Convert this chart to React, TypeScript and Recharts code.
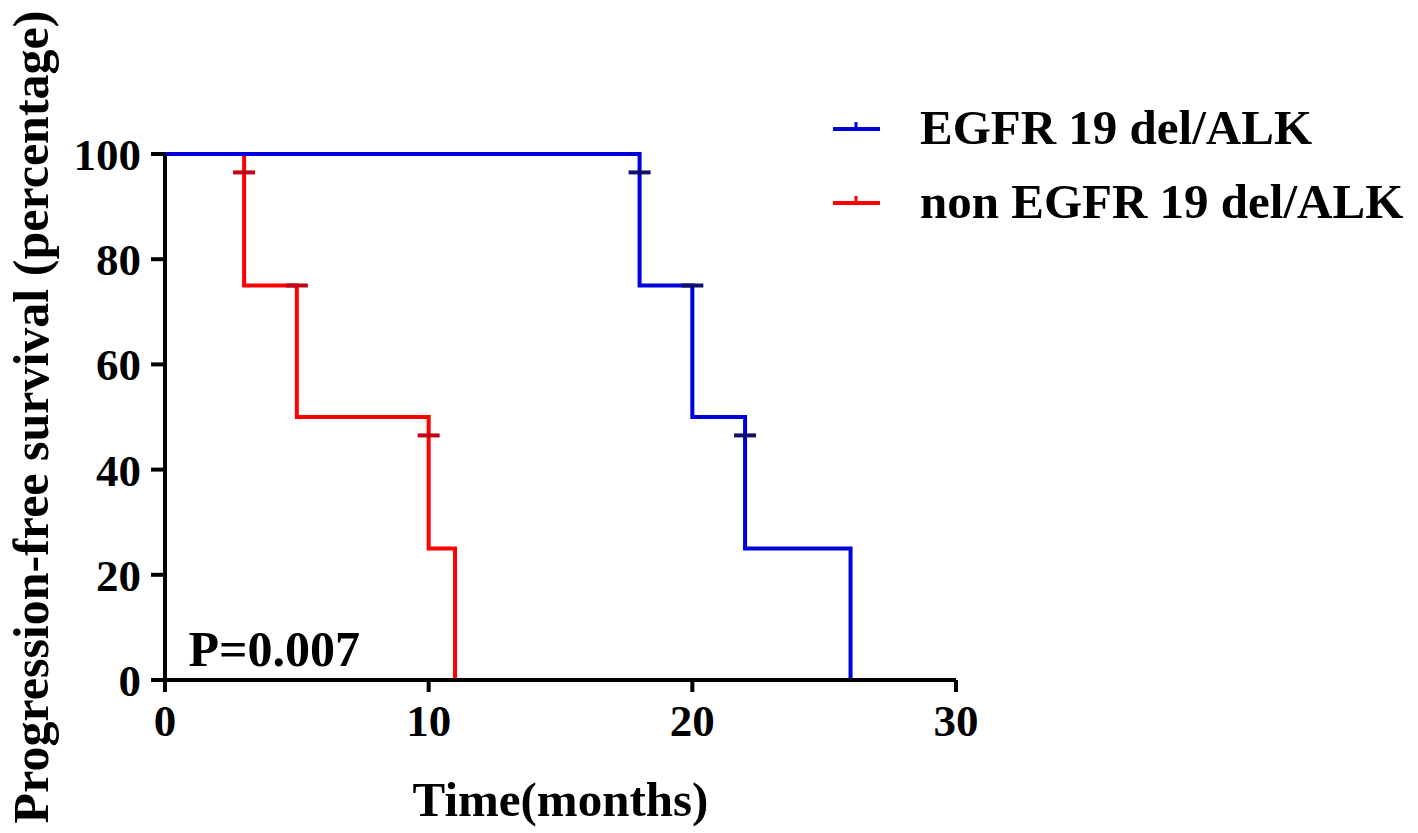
import { ComposedChart, Line, Scatter, XAxis, YAxis, Legend, ReferenceDot } from 'recharts'

const xTicks = [0, 10, 20, 30]
const yTicks = [0, 20, 40, 60, 80, 100]

// survival steps (months, percent)
const redSteps = [
  { t: 0, s: 100 },
  { t: 3, s: 75 },
  { t: 5, s: 50 },
  { t: 10, s: 25 },
  { t: 11, s: 0 },
]
const blueSteps = [
  { t: 0, s: 100 },
  { t: 18, s: 75 },
  { t: 20, s: 50 },
  { t: 22, s: 25 },
  { t: 26, s: 0 },
]

// censor marks
const redCensor = [
  { t: 3, s: 96.5 },
  { t: 5, s: 75 },
  { t: 10, s: 46.5 },
]
const blueCensor = [
  { t: 18, s: 96.5 },
  { t: 20, s: 75 },
  { t: 22, s: 46.5 },
]

const groups = ['EGFR 19 del/ALK', 'non EGFR 19 del/ALK']
const groupColors = ['#0000dd', '#ff0000']

const font = '"Liberation Serif", "Times New Roman", serif'
const tickStyle = { fontSize: 45, fill: '#000', fontWeight: 'bold', fontFamily: font }

const censorShape = (color: string) => (props: any) => {
  const { cx, cy } = props
  return <line x1={cx - 11} x2={cx + 11} y1={cy} y2={cy} stroke={color} strokeWidth={4} />
}

function LegendBox() {
  return (
    <div style={{ fontFamily: font, fontWeight: 'bold', fontSize: 49, color: '#000' }}>
      {groups.map((g, i) => (
        <div key={g} style={{ display: 'flex', alignItems: 'center', height: 74 }}>
          <svg width={90} height={20} style={{ flex: 'none' }}>
            <line x1={3} x2={50} y1={12} y2={12} stroke={groupColors[i]} strokeWidth={4} />
            <line x1={26} x2={26} y1={5} y2={12} stroke={groupColors[i]} strokeWidth={3} />
          </svg>
          <span style={{ whiteSpace: 'nowrap', lineHeight: 1 }}>{g}</span>
        </div>
      ))}
    </div>
  )
}

export default function App() {
  return (
    <div style={{ position: 'absolute', left: 0, top: 0, background: '#fff' }}>
      <ComposedChart width={1418} height={833} margin={{ top: 154, right: 462, bottom: 0, left: 0 }}>
        <XAxis
          type="number"
          dataKey="t"
          domain={[0, 30]}
          ticks={xTicks}
          allowDataOverflow
          tick={tickStyle}
          tickSize={12}
          tickMargin={12}
          height={153}
          axisLine={{ stroke: '#000', strokeWidth: 4 }}
          tickLine={{ stroke: '#000', strokeWidth: 4 }}
          label={{
            content: (p: any) => (
              <text
                x={p.viewBox.x + p.viewBox.width / 2}
                y={p.viewBox.y + 136}
                textAnchor="middle"
                fontFamily={font}
                fontWeight="bold"
                fontSize={49}
                fill="#000"
              >
                Time(months)
              </text>
            ),
          }}
        />
        <YAxis
          type="number"
          domain={[0, 100]}
          ticks={yTicks}
          tick={tickStyle}
          tickSize={14}
          tickMargin={10}
          width={165}
          axisLine={{ stroke: '#000', strokeWidth: 4 }}
          tickLine={{ stroke: '#000', strokeWidth: 4 }}
          label={{
            content: (p: any) => {
              const x = p.viewBox.x + 48
              const y = p.viewBox.y + p.viewBox.height / 2
              return (
                <text
                  x={x}
                  y={y}
                  transform={`rotate(-90, ${x}, ${y})`}
                  textAnchor="middle"
                  fontFamily={font}
                  fontWeight="bold"
                  fontSize={50}
                  fill="#000"
                >
                  Progression-free survival (percentage)
                </text>
              )
            },
          }}
        />
        <Line
          data={redSteps}
          dataKey="s"
          type="stepAfter"
          stroke={groupColors[1]}
          strokeWidth={4}
          dot={false}
          isAnimationActive={false}
        />
        <Line
          data={blueSteps}
          dataKey="s"
          type="stepAfter"
          stroke={groupColors[0]}
          strokeWidth={4}
          dot={false}
          isAnimationActive={false}
        />
        <Scatter data={redCensor} dataKey="s" shape={censorShape('#c0001a')} isAnimationActive={false} />
        <Scatter data={blueCensor} dataKey="s" shape={censorShape('#10106a')} isAnimationActive={false} />
        <ReferenceDot
          x={0.7}
          y={6}
          r={0}
          label={{
            value: 'P=0.007',
            position: 'right',
            fontFamily: font,
            fontWeight: 'bold',
            fontSize: 50,
            fill: '#000',
          }}
        />
        <Legend
          layout="vertical"
          align="center"
          verticalAlign="middle"
          wrapperStyle={{ top: 90, left: 830, width: 588 }}
          content={() => <LegendBox />}
        />
      </ComposedChart>
    </div>
  )
}
